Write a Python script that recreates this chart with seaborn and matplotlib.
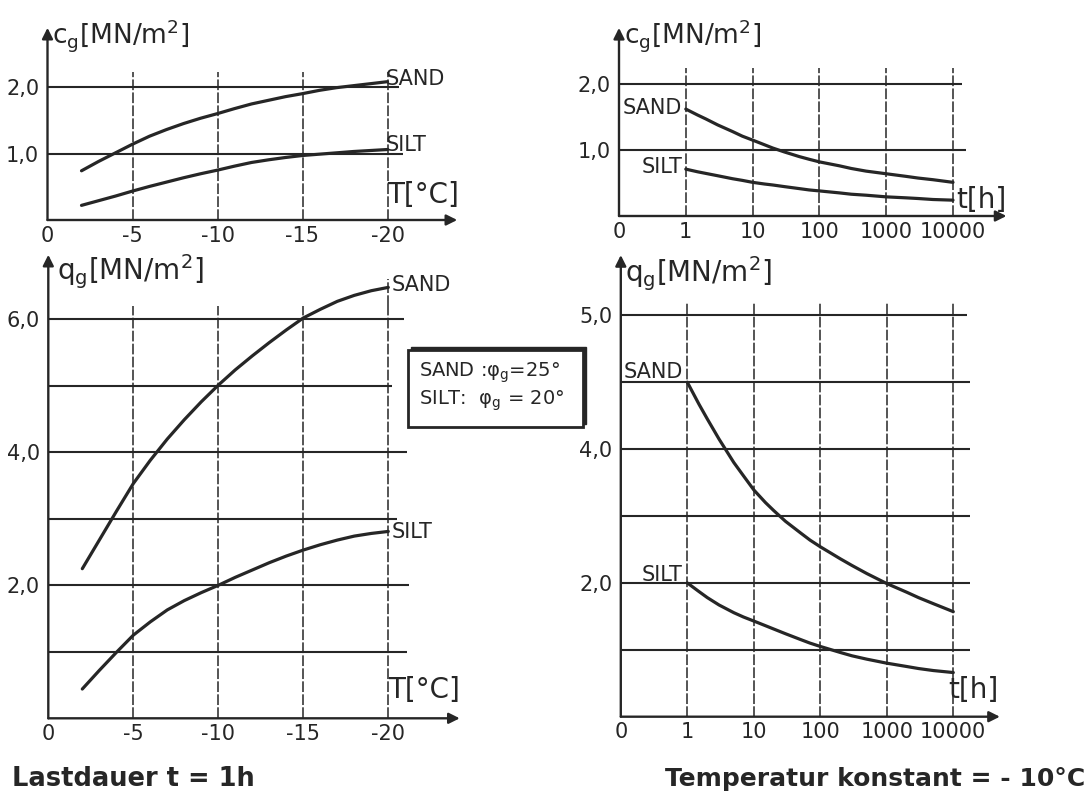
import numpy as np
import pandas as pd
import matplotlib
matplotlib.use("Agg")
import matplotlib.pyplot as plt
import seaborn as sns
from matplotlib.patches import Rectangle

# ---- cohesion c_g vs temperature (load duration 1 h) ----
temp_deg = [-2, -3, -4, -5, -6, -7, -8, -9, -10, -11, -12, -13, -14, -15,
            -16, -17, -18, -19, -20]
cg_sand_temp = [0.74, 0.88, 1.01, 1.14, 1.26, 1.36, 1.45, 1.53, 1.60, 1.675,
                1.745, 1.80, 1.855, 1.90, 1.95, 1.99, 2.02, 2.05, 2.08]
cg_silt_temp = [0.22, 0.29, 0.36, 0.435, 0.505, 0.57, 0.635, 0.695, 0.75, 0.81,
                0.865, 0.905, 0.94, 0.97, 0.99, 1.01, 1.03, 1.045, 1.06]

# ---- strength q_g vs temperature ----
qg_sand_temp = [2.25, 2.68, 3.11, 3.53, 3.88, 4.20, 4.49, 4.76, 5.01, 5.24,
                5.45, 5.65, 5.84, 6.02, 6.15, 6.27, 6.36, 6.43, 6.48]
qg_silt_temp = [0.44, 0.72, 0.99, 1.25, 1.45, 1.63, 1.77, 1.89, 2.00, 2.12,
                2.23, 2.34, 2.44, 2.53, 2.61, 2.68, 2.74, 2.78, 2.81]

# ---- load duration in hours (T = -10 °C) ----
hours = [1, 1.5, 2, 3, 5, 7, 10, 15, 20, 30, 50, 70, 100, 200, 300, 500,
         1000, 2000, 3000, 5000, 10000]
cg_sand_time = [1.62, 1.53, 1.47, 1.38, 1.28, 1.21, 1.15, 1.08, 1.03, 0.97, 0.90,
                0.86, 0.82, 0.76, 0.72, 0.68, 0.64, 0.60, 0.575, 0.55, 0.51]
cg_silt_time = [0.71, 0.67, 0.645, 0.61, 0.565, 0.54, 0.51, 0.485, 0.47, 0.445,
                0.415, 0.395, 0.38, 0.35, 0.33, 0.315, 0.29, 0.275, 0.265, 0.25, 0.24]
qg_sand_time = [5.00, 4.67, 4.45, 4.15, 3.80, 3.60, 3.39, 3.20, 3.08, 2.92, 2.75,
                2.64, 2.54, 2.36, 2.26, 2.14, 1.99, 1.86, 1.78, 1.69, 1.57]
qg_silt_time = [2.00, 1.87, 1.78, 1.67, 1.555, 1.49, 1.43, 1.36, 1.31, 1.24, 1.155,
                1.10, 1.05, 0.96, 0.91, 0.86, 0.80, 0.75, 0.72, 0.69, 0.66]

temp_ticks = [0, -5, -10, -15, -20]
temp_tick_labels = ["0", "-5", "-10", "-15", "-20"]
time_tick_labels = ["0", "1", "10", "100", "1000", "10000"]

sns.set_theme(style="white")
plt.rcParams["font.family"] = ["DejaVu Sans"]
plt.rcParams["mathtext.default"] = "regular"

INK = "#262626"
W, H = 1089, 798
fig = plt.figure(figsize=(W / 100, H / 100), dpi=100)


def panel(x0, y0, sx, sy, xlim, ylim):
    """Axes whose data origin sits at pixel (x0, y0) with sx, sy pixels per unit."""
    left = x0 + xlim[0] * sx
    right = x0 + xlim[1] * sx
    bottom = y0 - ylim[0] * sy
    top = y0 - ylim[1] * sy
    ax = fig.add_axes([left / W, (H - bottom) / H, (right - left) / W, (bottom - top) / H])
    ax.set_xlim(*xlim)
    ax.set_ylim(*ylim)
    ax.set_facecolor("none")
    sns.despine(ax=ax, left=True, bottom=True, top=True, right=True)
    ax.tick_params(axis="both", length=0, labelsize=15, colors=INK)
    ax.tick_params(axis="x", pad=4)
    ax.tick_params(axis="y", pad=6)
    return ax


def axes_arrows(ax, xend, yend):
    props = dict(arrowstyle="-|>", color=INK, lw=1.7, mutation_scale=16,
                 shrinkA=0, shrinkB=0)
    ax.annotate("", xy=(xend, 0), xytext=(0, 0), arrowprops=props, annotation_clip=False)
    ax.annotate("", xy=(0, yend), xytext=(0, 0), arrowprops=props, annotation_clip=False)


def grid(ax, levels, ends, xs, vtop):
    for lv, e in zip(levels, ends):
        ax.plot([0, e], [lv, lv], color=INK, lw=1.5, clip_on=False, solid_capstyle="butt")
    ax.vlines(xs, 0, vtop, colors=INK, lw=1.1, linestyles=(0, (7, 1.5)), clip_on=False)


def curve(ax, x, y):
    df = pd.DataFrame({"x": x, "y": y})
    sns.lineplot(data=df, x="x", y="y", ax=ax, color=INK, lw=2.3,
                 sort=False, estimator=None)
    ax.set_xlabel("")
    ax.set_ylabel("")


def label(ax, x, y, s, size=15, ha="left"):
    ax.text(x, y, s, fontsize=size, color=INK, ha=ha, va="center", clip_on=False)


pos_hours = np.log10(hours) + 1

# ---------------- top left: c_g over temperature ----------------
ax1 = panel(47.5, 220, -17.0, 66.5, (0, -25), (0, 3.0))
grid(ax1, [1, 2], [-20.9, -20.7], temp_ticks[1:], 2.22)
axes_arrows(ax1, -24.1, 2.89)
curve(ax1, temp_deg, cg_sand_temp)
curve(ax1, temp_deg, cg_silt_temp)
ax1.set_xticks(temp_ticks, temp_tick_labels)
ax1.set_yticks([1, 2], ["1,0", "2,0"])
label(ax1, -19.9, 2.12, "SAND")
label(ax1, -19.9, 1.13, "SILT")
label(ax1, -20.0, 0.38, "T[°C]", size=20)
label(ax1, -0.25, 2.78, "c$_g$[MN/m$^2$]", size=19)

# ---------------- top right: c_g over load duration ----------------
ax2 = panel(619, 216, 66.8, 66.0, (0, 6.0), (0, 2.95))
grid(ax2, [1, 2], [5.2, 5.13], [1, 2, 3, 4, 5], 2.24)
axes_arrows(ax2, 5.8, 2.85)
curve(ax2, pos_hours, cg_sand_time)
curve(ax2, pos_hours, cg_silt_time)
ax2.set_xticks(range(6), time_tick_labels)
ax2.set_yticks([1, 2], ["1,0", "2,0"])
label(ax2, 0.95, 1.63, "SAND", ha="right")
label(ax2, 0.95, 0.74, "SILT", ha="right")
label(ax2, 5.05, 0.24, "t[h]", size=20)
label(ax2, 0.08, 2.74, "c$_g$[MN/m$^2$]", size=19)

# ---------------- bottom left: q_g over temperature ----------------
ax3 = panel(48.3, 718.3, -17.0, 66.5, (0, -25), (0, 7.1))
grid(ax3, [1, 2, 3, 4, 5, 6], [-21.1, -21.2, -20.5, -21.1, -20.2, -20.9],
     temp_ticks[1:], 6.2)
ax3.vlines([-20], 6.2, 6.6, colors=INK, lw=1.1, linestyles=(0, (7, 1.5)), clip_on=False)
axes_arrows(ax3, -24.2, 6.97)
curve(ax3, temp_deg, qg_sand_temp)
curve(ax3, temp_deg, qg_silt_temp)
ax3.set_xticks(temp_ticks, temp_tick_labels)
ax3.set_yticks([2, 4, 6], ["2,0", "4,0", "6,0"])
label(ax3, -20.2, 6.52, "SAND")
label(ax3, -20.2, 2.80, "SILT")
label(ax3, -20.0, 0.43, "T[°C]", size=20)
label(ax3, -0.5, 6.72, "q$_g$[MN/m$^2$]", size=20)

# ---------------- bottom right: q_g over load duration ----------------
ax4 = panel(620.8, 716.7, 66.5, 66.9, (0, 6.0), (0, 7.0))
grid(ax4, [1, 2, 3, 4, 5, 6], [5.25, 5.25, 5.25, 5.25, 5.25, 5.2],
     [1, 2, 3, 4, 5], 6.2)
axes_arrows(ax4, 5.7, 6.9)
curve(ax4, pos_hours, qg_sand_time)
curve(ax4, pos_hours, qg_silt_time)
ax4.set_xticks(range(6), time_tick_labels)
ax4.set_yticks([2, 4, 6], ["2,0", "4,0", "5,0"])
label(ax4, 0.93, 5.15, "SAND", ha="right")
label(ax4, 0.93, 2.12, "SILT", ha="right")
label(ax4, 4.92, 0.40, "t[h]", size=20)
label(ax4, 0.06, 6.62, "q$_g$[MN/m$^2$]", size=20)

# ---------------- friction angle box and captions ----------------
ov = fig.add_axes([0, 0, 1, 1])
ov.set_xlim(0, W)
ov.set_ylim(H, 0)
ov.axis("off")
ov.add_patch(Rectangle((411, 347), 175, 77, facecolor=INK, edgecolor=INK, lw=1))
ov.add_patch(Rectangle((408, 350), 175, 77, facecolor="white", edgecolor=INK, lw=2))
ov.text(419, 373, "SAND :$\\varphi_g$=25°", fontsize=14, color=INK, va="center")
ov.text(419, 401, "SILT:  $\\varphi_g$ = 20°", fontsize=14, color=INK, va="center")
ov.text(12, 779, "Lastdauer t = 1h", fontsize=18.5, fontweight="bold", color=INK, va="center")
ov.text(1085, 779, "Temperatur konstant = - 10°C", fontsize=18, fontweight="bold",
        color=INK, va="center", ha="right")

fig.savefig("out.png", dpi=100, facecolor="white")
